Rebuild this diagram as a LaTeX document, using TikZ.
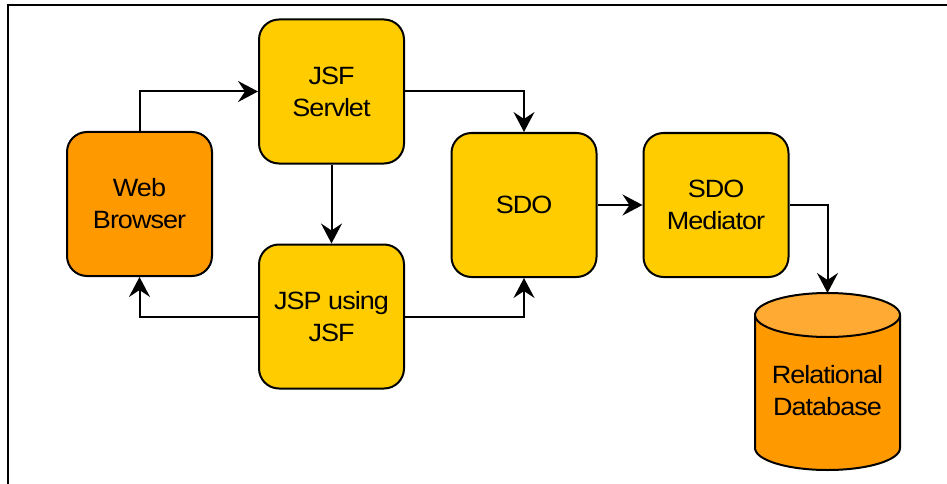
\documentclass[tikz,border=0pt]{standalone}
\usepackage{fontspec}
\setmainfont{Liberation Sans}
\newfontfamily\diafont[FakeStretch=1.08,LetterSpace=-4]{Liberation Sans}
\usetikzlibrary{arrows.meta}
\definecolor{boxyellow}{HTML}{FFCC00}
\definecolor{boxorange}{HTML}{FF9900}
\definecolor{cyltop}{HTML}{FFAA33}
\begin{document}
\begin{tikzpicture}[x=1pt,y=1pt,
  proc/.style={draw=black, line width=2pt, rounded corners=20pt, minimum width=145pt, minimum height=144pt, align=center, font=\diafont\fontsize{25}{32}\selectfont, inner sep=0pt},
  lbl/.style={align=center, font=\diafont\fontsize{25}{32}\selectfont, inner sep=0pt},
  flow/.style={line width=2pt, -{Stealth[length=20pt,width=21pt,inset=7pt]}}]
\useasboundingbox (0,0) rectangle (947,-484);
\draw[line width=1.3pt] (8,-484) -- (8,-5) -- (947,-5);
\node[proc, fill=boxorange] (web) at (139.5,-204) {Web\\Browser};
\node[proc, fill=boxyellow] (servlet) at (331.5,-91.5) {JSF\\Servlet};
\node[proc, fill=boxyellow] (jsp) at (331.5,-316.5) {JSP using\\JSF};
\node[proc, fill=boxyellow] (sdo) at (524,-205) {SDO};
\node[proc, fill=boxyellow] (med) at (716,-205) {SDO\\Mediator};
% database cylinder
\fill[boxorange] (755,-315) -- (755,-448) arc[start angle=180,end angle=360,x radius=72.5,y radius=22] -- (900,-315) -- cycle;
\draw[line width=2pt] (755,-315) -- (755,-448) arc[start angle=180,end angle=360,x radius=72.5,y radius=22] -- (900,-315);
\draw[line width=2pt, fill=cyltop] (827.5,-315) ellipse[x radius=72.5,y radius=22];
\node[lbl] (db) at (827.5,-391) {Relational\\Database};
\coordinate (dbtop) at (827.5,-293);
% connectors
\draw[flow] (web.north) |- (servlet.west);
\draw[flow] (servlet.east) -| (sdo.north);
\draw[flow] (servlet.south) -- (jsp.north);
\draw[flow] (jsp.west) -| (web.south);
\draw[flow] (jsp.east) -| (sdo.south);
\draw[flow] (sdo.east) -- (med.west);
\draw[flow] (med.east) -| (dbtop);
\end{tikzpicture}
\end{document}
